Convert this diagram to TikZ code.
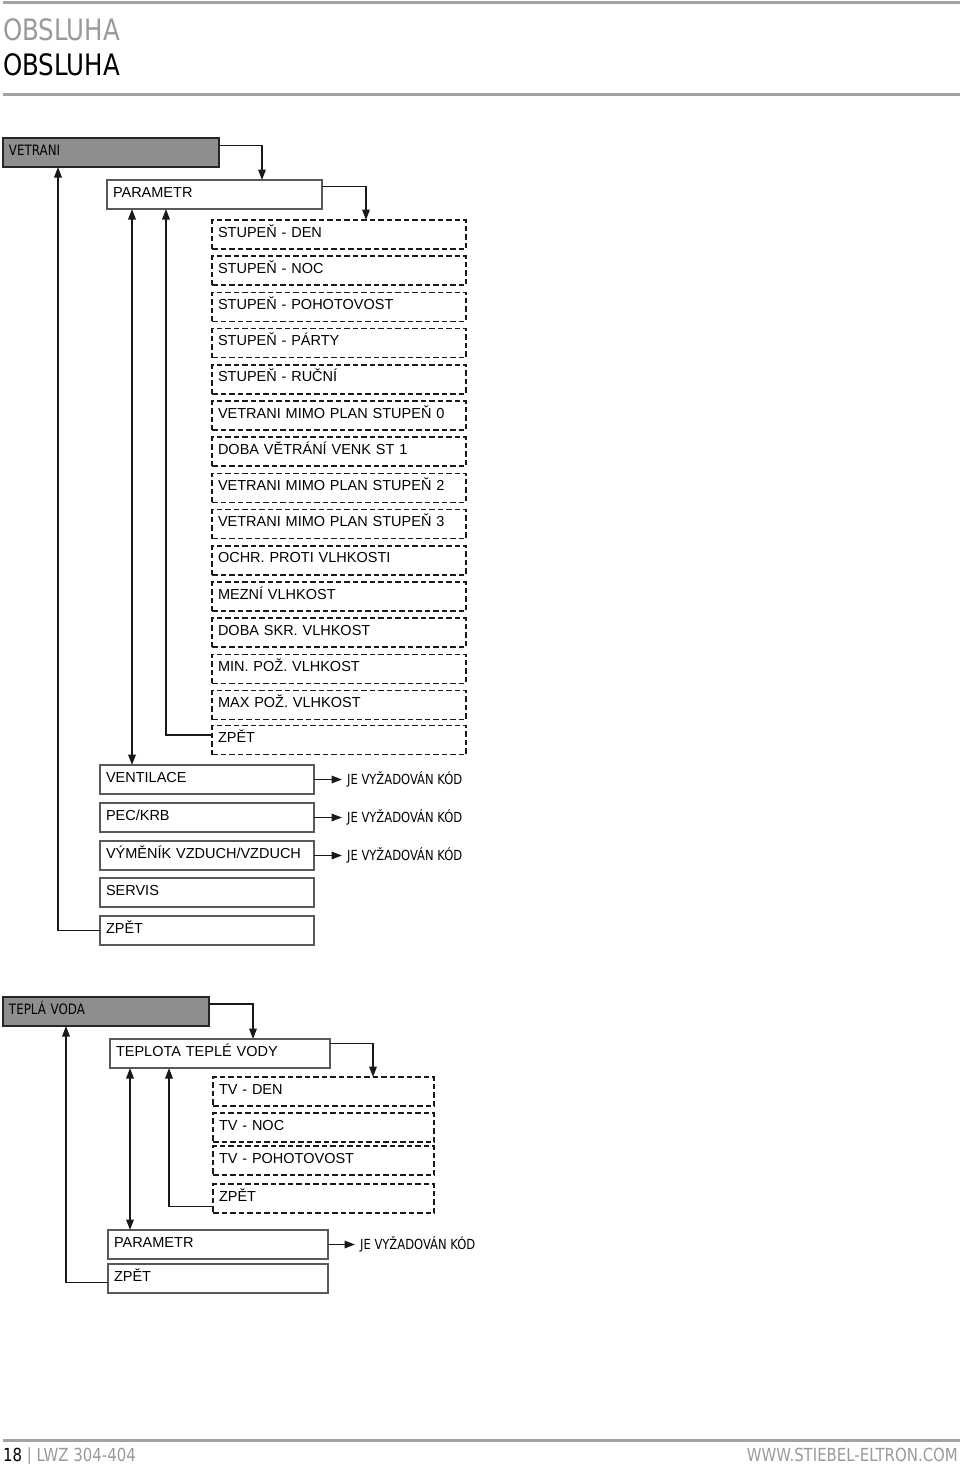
\documentclass[tikz,border=0pt]{standalone}
\usepackage{fontspec}
\setmainfont{Liberation Sans}
\newfontfamily\dinfont[FakeStretch=0.83]{DejaVu Sans}
\usetikzlibrary{positioning,arrows.meta}
\definecolor{rulegray}{HTML}{A3A3A3}
\definecolor{headgray}{HTML}{9A9A9A}
\definecolor{menugray}{HTML}{8E8E8E}

\begin{document}
\begin{tikzpicture}[x=1pt, y=-1pt, every node/.style={font=\fontsize{14.5}{16}\selectfont}, >={Triangle[length=10.5pt,width=7.5pt]}]
\tikzstyle{menu}=[draw=black!85, line width=1.6pt, fill=menugray, anchor=north west, align=left, minimum height=29pt, inner xsep=6pt, inner ysep=2pt, outer sep=0pt, text height=11pt, text depth=6pt, font=\dinfont\fontsize{14.3}{15}\selectfont]
\tikzstyle{box}=[draw=black!65, line width=1.5pt, anchor=north west, align=left, text width=203pt, minimum height=29pt, inner xsep=6pt, inner ysep=2pt, outer sep=0pt, text height=12pt, text depth=7pt]
\tikzstyle{dbox}=[draw=black!90, line width=1.7pt, dash pattern=on 5.5pt off 3pt, anchor=north west, align=left, text width=242pt, minimum height=29pt, inner xsep=6pt, inner ysep=2pt, outer sep=0pt, text height=12pt, text depth=7pt]
\tikzstyle{kod}=[anchor=west, inner xsep=2pt, font=\dinfont\fontsize{13.9}{15}\selectfont]
\tikzstyle{conn}=[line width=1.8pt, black!90]
\useasboundingbox (0,0) rectangle (960,1464);

% header
\draw[rulegray, line width=3pt] (3,3) -- (960,3);
\node[anchor=base west, inner sep=0pt, text=headgray, font=\dinfont\fontsize{29.5}{30}\selectfont] (head1) at (3,41) {OBSLUHA};
\node[anchor=base west, inner sep=0pt, font=\dinfont\fontsize{29.5}{30}\selectfont] (head2) at (3,76) {OBSLUHA};
\draw[rulegray, line width=3pt] (3,94) -- (960,94);

% vetrani
\node[menu, text width=204pt] (vetrani) at (3,138) {VETRANI};
\node[box] (param) at (107,180) {PARAMETR};
\node[dbox] (st1) at (212,220) {STUPEŇ - DEN};
\node[dbox, below=7.2pt of st1] (st2) {STUPEŇ - NOC};
\node[dbox, below=7.2pt of st2] (st3) {STUPEŇ - POHOTOVOST};
\node[dbox, below=7.2pt of st3] (st4) {STUPEŇ - PÁRTY};
\node[dbox, below=7.2pt of st4] (st5) {STUPEŇ - RUČNÍ};
\node[dbox, below=7.2pt of st5] (st6) {VETRANI MIMO PLAN STUPEŇ 0};
\node[dbox, below=7.2pt of st6] (st7) {DOBA VĚTRÁNÍ VENK ST 1};
\node[dbox, below=7.2pt of st7] (st8) {VETRANI MIMO PLAN STUPEŇ 2};
\node[dbox, below=7.2pt of st8] (st9) {VETRANI MIMO PLAN STUPEŇ 3};
\node[dbox, below=7.2pt of st9] (st10) {OCHR. PROTI VLHKOSTI};
\node[dbox, below=7.2pt of st10] (st11) {MEZNÍ VLHKOST};
\node[dbox, below=7.2pt of st11] (st12) {DOBA SKR. VLHKOST};
\node[dbox, below=7.2pt of st12] (st13) {MIN. POŽ. VLHKOST};
\node[dbox, below=7.2pt of st13] (st14) {MAX POŽ. VLHKOST};
\node[dbox, below=6pt of st14] (stzpet) {ZPĚT};
\node[box, text width=202pt] (vent) at (100,765) {VENTILACE};
\node[box, text width=202pt, below=9pt of vent] (pec) {PEC/KRB};
\node[box, text width=202pt, below=9pt of pec] (vymenik) {VÝMĚNÍK VZDUCH/VZDUCH};
\node[box, text width=202pt, below=8pt of vymenik] (servis) {SERVIS};
\node[box, text width=202pt, below=9pt of servis] (zpet) {ZPĚT};
\node[kod, right=31pt of vent] (kod1) {JE VYŽADOVÁN KÓD};
\node[kod, right=31pt of pec] (kod2) {JE VYŽADOVÁN KÓD};
\node[kod, right=31pt of vymenik] (kod3) {JE VYŽADOVÁN KÓD};
\coordinate (pv1) at ([xshift=25pt]param.south west);
\coordinate (pv2) at ([xshift=59pt]param.south west);
\draw[->, conn] ([yshift=7pt]vetrani.east) -| ([xshift=-60pt]param.north east);
\draw[->, conn] ([yshift=8pt]param.east) -| ([xshift=-100pt]st1.north east);
\draw[->, conn] ([yshift=5pt]stzpet.west) -| (pv2);
\draw[<->, conn] (pv1) -- (pv1 |- vent.north);
\draw[->, conn] (zpet.west) -| ([xshift=55pt]vetrani.south west);
\draw[->, conn, shorten >=3pt] (vent.east) -- (kod1.west);
\draw[->, conn, shorten >=3pt] (pec.east) -- (kod2.west);
\draw[->, conn, shorten >=3pt] (vymenik.east) -- (kod3.west);

% tepla voda
\node[menu, text width=194pt] (voda) at (3,997) {TEPLÁ VODA};
\node[box, text width=208pt] (teplota) at (110,1039) {TEPLOTA TEPLÉ VODY};
\node[dbox, text width=209pt] (tv1) at (213,1077) {TV - DEN};
\node[dbox, text width=209pt, below=7pt of tv1] (tv2) {TV - NOC};
\node[dbox, text width=209pt, below=4pt of tv2] (tv3) {TV - POHOTOVOST};
\node[dbox, text width=209pt, below=9pt of tv3] (tvzpet) {ZPĚT};
\node[box, text width=208pt] (vparam) at (108,1230) {PARAMETR};
\node[box, text width=208pt, below=5pt of vparam] (vzpet) {ZPĚT};
\node[kod, right=30pt of vparam] (kod4) {JE VYŽADOVÁN KÓD};
\coordinate (tp1) at ([xshift=20pt]teplota.south west);
\coordinate (tp2) at ([xshift=59pt]teplota.south west);
\draw[->, conn] ([yshift=7.5pt]voda.east) -| ([xshift=-77pt]teplota.north east);
\draw[->, conn] ([yshift=10pt]teplota.east) -| ([xshift=-61pt]tv1.north east);
\draw[->, conn] ([yshift=-8pt]tvzpet.west) -| (tp2);
\draw[<->, conn] (tp1) -- (tp1 |- vparam.north);
\draw[->, conn] ([yshift=-4pt]vzpet.west) -| ([xshift=63pt]voda.south west);
\draw[->, conn, shorten >=3pt] (vparam.east) -- (kod4.west);

% footer
\draw[rulegray, line width=3pt] (3,1440) -- (960,1440);
\node[anchor=base west, inner sep=0pt, font=\dinfont\fontsize{18}{20}\selectfont] (page) at (3,1461) {18 \textcolor{headgray}{| LWZ 304-404}};
\node[anchor=base east, inner sep=0pt, text=headgray, font=\dinfont\fontsize{18}{20}\selectfont] (web) at (958,1461) {WWW.STIEBEL-ELTRON.COM};
\end{tikzpicture}
\end{document}
